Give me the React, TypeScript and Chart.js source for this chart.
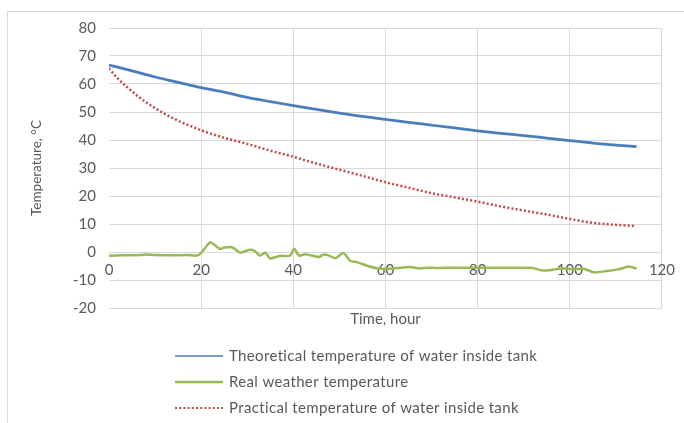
import React, { useEffect, useRef } from "react";
import { Chart, registerables } from "chart.js";

Chart.register(...registerables);

// ---- Data ----
const seriesNames = [
  "Theoretical temperature of water inside tank",
  "Real weather temperature",
  "Practical temperature of water inside tank",
];

const theoHours = [0, 5, 10, 15, 20, 25, 30, 35, 40, 45, 50, 55, 60, 65, 70, 75, 80, 85, 90, 95, 100, 105, 110, 114.5];
const theoTemps = [66.8, 64.7, 62.5, 60.6, 58.7, 57.1, 55.2, 53.7, 52.3, 50.9, 49.6, 48.4, 47.4, 46.3, 45.3, 44.3, 43.3, 42.4, 41.6, 40.7, 39.8, 38.9, 38.2, 37.6];

const practHours = [0, 2, 4, 6, 8, 10, 12, 14, 16, 18, 20, 25, 30, 35, 40, 45, 50, 55, 60, 65, 70, 75, 80, 85, 90, 95, 100, 105, 110, 114];
const practTemps = [65.6, 61.8, 58.8, 56.0, 53.5, 51.4, 49.4, 47.7, 46.1, 44.8, 43.5, 40.8, 38.6, 36.2, 34.0, 31.6, 29.4, 27.2, 24.9, 23.0, 21.0, 19.5, 18.0, 16.3, 14.8, 13.4, 11.8, 10.4, 9.7, 9.3];

const weatherHours = [0, 3, 7, 8, 10, 14, 17, 19, 20, 22, 24, 25, 26.7, 28.5, 30.5, 31.5, 32.8, 33.9, 35, 37, 39.3, 40.2, 41.2, 42.6, 45.5, 46.6, 47.5, 49.1, 50.9, 52.4, 53.8, 56, 58.2, 60.4, 62.5, 64, 65.4, 67.6, 69, 71, 75, 80, 85, 90, 92, 94, 96, 97.5, 99, 101, 103, 105.3, 108, 110.4, 111.5, 112.7, 114.5];
const weatherTemps = [-1.3, -1.2, -1.1, -0.9, -1.1, -1.2, -1.1, -1.3, -0.3, 3.5, 1.1, 1.6, 1.7, -0.2, 0.8, 0.5, -1.3, -0.2, -2.3, -1.4, -1.3, 1.2, -1.3, -0.8, -1.8, -0.9, -1.1, -2.2, -0.4, -3.2, -3.6, -4.9, -5.8, -6.0, -5.7, -5.5, -5.4, -5.9, -5.6, -5.7, -5.6, -5.6, -5.6, -5.6, -5.7, -6.6, -6.4, -6.0, -5.9, -6.2, -6.0, -7.3, -6.8, -6.2, -5.8, -5.2, -5.9];

const xTickStep = 20;
const yTickStep = 10;
const xMin = 0, xMax = 120;
const yMin = -20, yMax = 80;

const FONT = "Lato, 'Liberation Sans', sans-serif";
const TEXT = "#595959";
const GRID = "#d9d9d9";

const toPoints = (xs: number[], ys: number[]) => xs.map((x, i) => ({ x, y: ys[i] }));

const framePlugin = {
  id: "frame",
  beforeDraw(chart: any) {
    const ctx = chart.ctx;
    ctx.save();
    ctx.fillStyle = "#ffffff";
    ctx.fillRect(0, 0, chart.width, chart.height);
    ctx.strokeStyle = GRID;
    ctx.lineWidth = 1;
    ctx.strokeRect(7.5, 11.5, 900, 900);
    ctx.restore();
  },
};

const stackedLegend = {
  id: "stackedLegend",
  afterDraw(chart: any) {
    const ctx = chart.ctx;
    const area = chart.chartArea;
    const rowY = [area.bottom + 48, area.bottom + 74, area.bottom + 100];
    const lineWidths = [1.5, 2.5, 2];
    chart.data.datasets.forEach((ds: any, i: number) => {
      const y = rowY[i];
      ctx.save();
      ctx.strokeStyle = ds.borderColor;
      ctx.lineWidth = lineWidths[i];
      ctx.setLineDash(ds.borderDash || []);
      ctx.beginPath();
      ctx.moveTo(175, y);
      ctx.lineTo(223, y);
      ctx.stroke();
      ctx.setLineDash([]);
      ctx.fillStyle = TEXT;
      ctx.font = `15px ${FONT}`;
      (ctx as any).letterSpacing = "0.35px";
      ctx.textBaseline = "middle";
      ctx.textAlign = "left";
      ctx.fillText(ds.label, 229, y);
      ctx.restore();
    });
  },
};

export default function App() {
  const ref = useRef<HTMLCanvasElement | null>(null);

  useEffect(() => {
    if (!ref.current) return;
    const chart = new Chart(ref.current, {
      type: "line",
      data: {
        datasets: [
          {
            label: seriesNames[0],
            data: toPoints(theoHours, theoTemps),
            borderColor: "#4A7EBB",
            borderWidth: 2.75,
            pointRadius: 0,
            cubicInterpolationMode: "monotone",
          },
          {
            label: seriesNames[1],
            data: toPoints(weatherHours, weatherTemps),
            borderColor: "#98B954",
            borderWidth: 2.5,
            pointRadius: 0,
            tension: 0.2,
          },
          {
            label: seriesNames[2],
            data: toPoints(practHours, practTemps),
            borderColor: "#BE4B48",
            borderWidth: 2.5,
            borderDash: [2, 2.2],
            borderCapStyle: "butt",
            pointRadius: 0,
            cubicInterpolationMode: "monotone",
          },
        ],
      },
      options: {
        animation: false,
        responsive: false,
        events: [],
        layout: { padding: { top: 28, right: 22, bottom: 95, left: 0 } },
        plugins: {
          legend: { display: false },
          tooltip: { enabled: false },
        },
        scales: {
          x: {
            type: "linear",
            min: xMin,
            max: xMax,
            position: { y: 0 },
            ticks: {
              stepSize: xTickStep,
              color: TEXT,
              font: { family: FONT, size: 15 },
              padding: 9,
              maxRotation: 0,
            },
            grid: {
              color: (c: any) => (c.tick && c.tick.value === 0 ? "rgba(0,0,0,0)" : GRID),
              drawTicks: false,
              lineWidth: 1,
            },
            border: { display: false },
            afterFit: (s: any) => {
              s.height = 0;
            },
          },
          x2: {
            axis: "x",
            type: "linear",
            min: xMin,
            max: xMax,
            position: "bottom",
            ticks: { display: false },
            grid: { display: false, drawTicks: false },
            border: { display: false },
            title: {
              display: true,
              text: "Time, hour",
              color: TEXT,
              font: { family: FONT, size: 15 },
              padding: 0,
            },
            afterFit: (s: any) => {
              s.height = 20;
            },
          },
          y: {
            min: yMin,
            max: yMax,
            ticks: {
              stepSize: yTickStep,
              color: TEXT,
              font: { family: FONT, size: 15 },
              padding: 13,
            },
            grid: { color: GRID, drawTicks: false, lineWidth: 1 },
            border: { display: false },
            title: {
              display: true,
              text: "Temperature, °C",
              color: TEXT,
              font: { family: FONT, size: 13.5 },
              padding: { top: 29, bottom: 0 },
            },
            afterFit: (s: any) => {
              s.width = 109;
            },
          },
        },
      } as any,
      plugins: [framePlugin, stackedLegend],
    });
    return () => chart.destroy();
  }, []);

  return (
    <div style={{ position: "absolute", left: 0, top: 0, width: 684, height: 423 }}>
      <canvas ref={ref} width={684} height={423} style={{ width: 684, height: 423, display: "block" }} />
    </div>
  );
}
